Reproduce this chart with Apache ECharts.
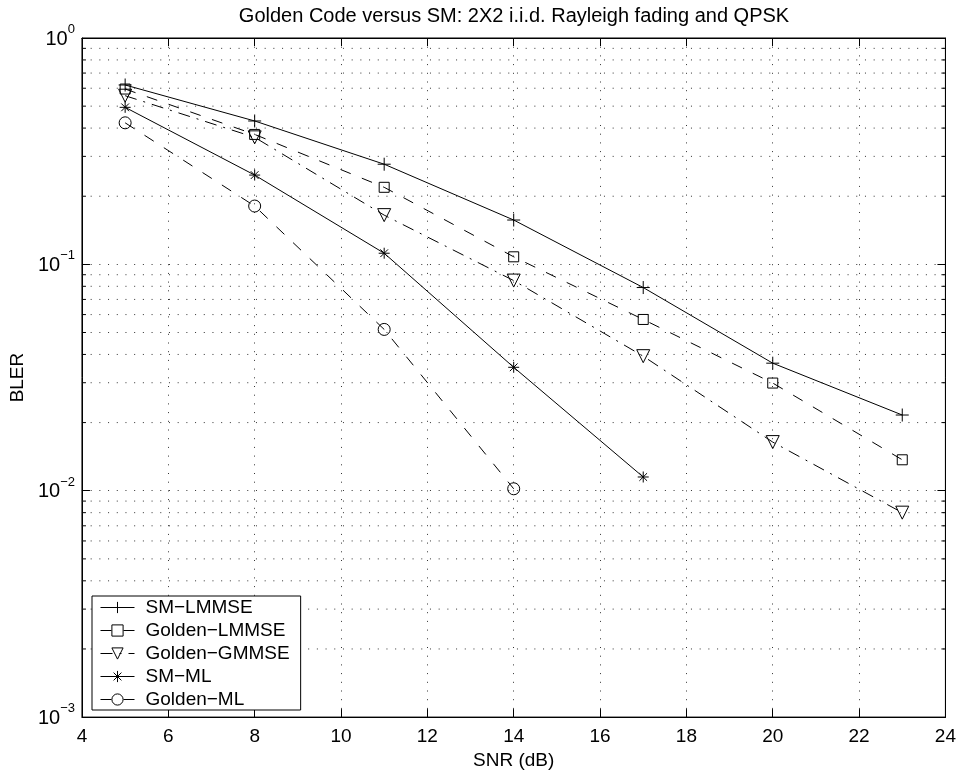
<!DOCTYPE html>
<html>
<head>
<meta charset="utf-8">
<title>Golden Code versus SM</title>
<script src="https://cdn.jsdelivr.net/npm/echarts@6/dist/echarts.min.js"></script>
<style>
    html, body { margin: 0; padding: 0; background: #fff; }
    #main { width: 959px; height: 775px; }
</style>
</head>
<body>
<div id="main"></div>
<script>
var snr = [5, 8, 11, 14, 17, 20, 23];
var smLmmse = [0.62, 0.43, 0.277, 0.157, 0.079, 0.0366, 0.0216];
var goldenLmmse = [0.595, 0.375, 0.219, 0.108, 0.0571, 0.0299, 0.0137];
var goldenGmmse = [0.556, 0.364, 0.165, 0.0848, 0.0393, 0.0164, 0.0080];
var smMl = [0.494, 0.248, 0.112, 0.0351, 0.0115];
var goldenMl = [0.422, 0.181, 0.0516, 0.0102];
// minor grid lines of the log axis
var minorTicks = [0.002, 0.003, 0.004, 0.005, 0.006, 0.007, 0.008, 0.009,
    0.02, 0.03, 0.04, 0.05, 0.06, 0.07, 0.08, 0.09,
    0.2, 0.3, 0.4, 0.5, 0.6, 0.7, 0.8, 0.9];
var names = ['SM−LMMSE', 'Golden−LMMSE', 'Golden−GMMSE', 'SM−ML', 'Golden−ML'];

var font = 'Liberation Sans, Arial, Helvetica, sans-serif';
var dotted = [1, 7.7];

function pairs(ys) {
    var out = [];
    for (var i = 0; i < ys.length; i++) {
        out.push([snr[i], ys[i]]);
    }
    return out;
}

function lineSeries(name, ys, symbol, size, dash, rotate) {
    return {
        name: name,
        type: 'line',
        data: pairs(ys),
        symbol: symbol,
        symbolSize: size,
        symbolRotate: rotate || 0,
        z: 3,
        lineStyle: { color: '#000', width: 1, type: dash },
        itemStyle: { color: 'rgba(0,0,0,0)', borderColor: '#000', borderWidth: 1 },
        emphasis: { disabled: true }
    };
}

var chart = echarts.init(document.getElementById('main'));
var option = {
    backgroundColor: '#fff',
    animation: false,
    title: {
        text: 'Golden Code versus SM: 2X2 i.i.d. Rayleigh fading and QPSK',
        left: 514,
        textAlign: 'center',
        top: 6,
        padding: 0,
        textStyle: { fontSize: 20, fontWeight: 'normal', color: '#000', fontFamily: font }
    },
    grid: {
        left: 81, right: 12, top: 38, bottom: 54,
        show: true, borderColor: '#000', borderWidth: 1, backgroundColor: '#fff'
    },
    legend: {
        data: names,
        orient: 'vertical',
        left: 92,
        top: 596,
        itemWidth: 34,
        itemHeight: 14,
        itemGap: 4,
        padding: [2, 11, 1, 8],
        backgroundColor: '#fff',
        borderColor: '#000',
        borderWidth: 1,
        borderRadius: 0,
        lineStyle: { width: 1, color: '#000' },
        itemStyle: { borderWidth: 1, borderColor: '#000' },
        textStyle: { fontSize: 19, color: '#000', fontFamily: font, padding: [0, 0, 0, 6] }
    },
    xAxis: [{
        type: 'value',
        min: 4, max: 24, interval: 2,
        name: 'SNR (dB)',
        nameLocation: 'middle',
        nameGap: 33,
        nameTextStyle: { fontSize: 19, color: '#000', fontFamily: font },
        axisLine: { lineStyle: { color: '#000', width: 1 } },
        axisTick: { inside: true, length: 8, lineStyle: { color: '#000' } },
        axisLabel: { fontSize: 19, color: '#000', fontFamily: font, margin: 10 },
        splitLine: { show: true, lineStyle: { color: '#333', width: 1, type: dotted } }
    }, {
        type: 'value',
        position: 'top',
        min: 4, max: 24, interval: 2,
        axisLine: { lineStyle: { color: '#000', width: 1 } },
        axisTick: { inside: true, length: 8, lineStyle: { color: '#000' } },
        axisLabel: { show: false },
        splitLine: { show: false }
    }],
    yAxis: [{
        type: 'log',
        logBase: 10,
        min: 0.001, max: 1,
        name: 'BLER',
        nameLocation: 'middle',
        nameGap: 53,
        nameTextStyle: { fontSize: 19, color: '#000', fontFamily: font },
        axisLine: { lineStyle: { color: '#000', width: 1 } },
        axisTick: { inside: true, length: 8, lineStyle: { color: '#000' } },
        axisLabel: {
            margin: 7,
            formatter: function (v) {
                var e = Math.round(Math.log(v) / Math.LN10);
                return '{b|10}{e|' + (e === 0 ? '0' : '−' + (-e)) + '}';
            },
            rich: {
                b: { fontSize: 20, color: '#000', fontFamily: font, verticalAlign: 'bottom', padding: [0, 0, 4, 0] },
                e: { fontSize: 13, color: '#000', fontFamily: font, verticalAlign: 'bottom', padding: [0, 0, 17, 0] }
            }
        },
        splitLine: { show: true, lineStyle: { color: '#333', width: 1, type: dotted } }
    }, {
        type: 'log',
        logBase: 10,
        position: 'right',
        min: 0.001, max: 1,
        axisLine: { lineStyle: { color: '#000', width: 1 } },
        axisTick: { inside: true, length: 8, lineStyle: { color: '#000' } },
        axisLabel: { show: false },
        splitLine: { show: false }
    }],
    series: [
        {
            name: 'minor',
            type: 'custom',
            silent: true,
            z: 1,
            data: minorTicks.map(function (v) { return [4, v]; }),
            renderItem: function (params, api) {
                var y = api.coord([4, api.value(1)])[1];
                var cs = params.coordSys;
                var x0 = cs.x, x1 = cs.x + cs.width;
                return {
                    type: 'group',
                    children: [{
                        type: 'line',
                        shape: { x1: x0, y1: y, x2: x1, y2: y },
                        style: { stroke: '#333', lineWidth: 1, lineDash: dotted }
                    }, {
                        type: 'line',
                        shape: { x1: x0, y1: y, x2: x0 + 4, y2: y },
                        style: { stroke: '#000', lineWidth: 1 }
                    }, {
                        type: 'line',
                        shape: { x1: x1 - 4, y1: y, x2: x1, y2: y },
                        style: { stroke: '#000', lineWidth: 1 }
                    }]
                };
            }
        },
        lineSeries(names[0], smLmmse, 'path://M5,0L5,10M0,5L10,5', 13, 'solid'),
        lineSeries(names[1], goldenLmmse, 'rect', 10, [11, 12]),
        lineSeries(names[2], goldenGmmse, 'triangle', 13, [12, 7, 2, 7], 180),
        lineSeries(names[3], smMl, 'path://M5,0L5,10M0,5L10,5M1.5,1.5L8.5,8.5M8.5,1.5L1.5,8.5', 11, 'solid'),
        lineSeries(names[4], goldenMl, 'circle', 12, [11, 12])
    ]
};
chart.setOption(option);
</script>
</body>
</html>
